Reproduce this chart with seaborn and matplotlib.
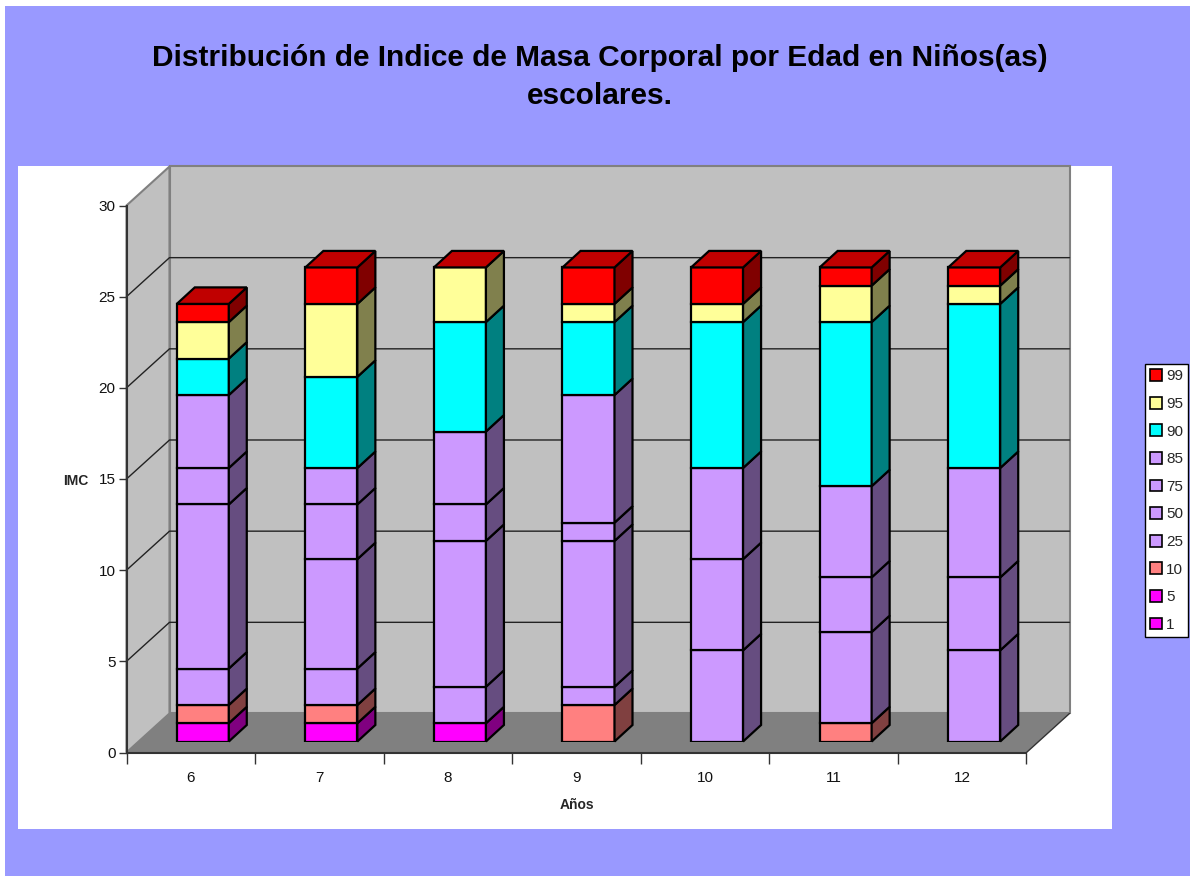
import numpy as np
import seaborn as sns
import matplotlib.pyplot as plt
from matplotlib.patches import Polygon, Rectangle, Patch

# values, one list per percentile, bottom to top
edades = ['6', '7', '8', '9', '10', '11', '12']
p1 = [1, 1, 1, 0, 0, 0, 0]
p5 = [0, 0, 0, 0, 0, 0, 0]
p10 = [1, 1, 0, 2, 0, 1, 0]
p25 = [2, 2, 2, 1, 5, 5, 5]
p50 = [9, 6, 8, 8, 5, 3, 4]
p75 = [2, 3, 2, 1, 5, 5, 6]
p85 = [4, 2, 4, 7, 0, 0, 0]
p90 = [2, 5, 6, 4, 8, 9, 9]
p95 = [2, 4, 3, 1, 1, 2, 1]
p99 = [1, 2, 0, 2, 2, 1, 1]

series = [p1, p5, p10, p25, p50, p75, p85, p90, p95, p99]
labels = ['1', '5', '10', '25', '50', '75', '85', '90', '95', '99']
colors = ['#FF00FF', '#FF00FF', '#FF8080', '#CC99FF', '#CC99FF', '#CC99FF',
          '#CC99FF', '#00FFFF', '#FFFF99', '#FF0000']
y_ticks = [0, 5, 10, 15, 20, 25, 30]

W, H = 1190, 877
BAR_DX, BAR_DY = 18 / 128.57, 16.5 / 18.23   # bar depth in data units
WALL_DX, WALL_DY = 43 / 128.57, 39 / 18.23   # depth of the back wall


def rect(x0, y0, x1, y1):
    # pixel box (from top left) to figure fractions
    return [x0 / W, 1 - y1 / H, (x1 - x0) / W, (y1 - y0) / H]


def darker(c, k=0.5):
    r, g, b = plt.matplotlib.colors.to_rgb(c)
    return (r * k, g * k, b * k)


sns.set_style('white')
plt.rcParams['font.family'] = ['Liberation Sans', 'DejaVu Sans']

fig = plt.figure(figsize=(W / 100, H / 100), dpi=100, facecolor='white')
for box, col in [(rect(5, 6, W, 876), '#9999FF'), (rect(18, 166, 1112, 829), 'white')]:
    fig.add_artist(Rectangle((box[0], box[1]), box[2], box[3], transform=fig.transFigure,
                             facecolor=col, edgecolor='none', zorder=-1))

# axes with the ticks and the walls
ax = fig.add_axes(rect(126.5, 205.5, 1026.5, 752.5))
ax.patch.set_alpha(0)
ax.set_xlim(-0.5, 6.5)
ax.set_ylim(0, 30)
x0, x1 = -0.5, 6.5
ax.add_patch(Polygon([(x0, 0), (x0 + WALL_DX, WALL_DY), (x0 + WALL_DX, 30 + WALL_DY), (x0, 30)],
                     facecolor='#C0C0C0', edgecolor='#808080', lw=1.5, clip_on=False, zorder=0))
ax.add_patch(Polygon([(x0 + WALL_DX, WALL_DY), (x1 + WALL_DX, WALL_DY), (x1 + WALL_DX, 30 + WALL_DY),
                      (x0 + WALL_DX, 30 + WALL_DY)],
                     facecolor='#C0C0C0', edgecolor='#808080', lw=1.5, clip_on=False, zorder=0))
ax.add_patch(Polygon([(x0, 0), (x1, 0), (x1 + WALL_DX, WALL_DY), (x0 + WALL_DX, WALL_DY)],
                     facecolor='#808080', edgecolor='none', clip_on=False, zorder=1))
ax.plot([x1, x1 + WALL_DX], [0, WALL_DY], color='#333333', lw=1, clip_on=False, zorder=1)
for t in y_ticks[1:-1]:
    ax.plot([x0, x0 + WALL_DX, x1 + WALL_DX], [t, t + WALL_DY, t + WALL_DY],
            color='#222222', lw=1, clip_on=False, zorder=1)

sns.despine(ax=ax, top=True, right=True)
for s in ['left', 'bottom']:
    ax.spines[s].set_color('#333333')
    ax.spines[s].set_linewidth(1.5)
    ax.spines[s].set_zorder(2)
ax.set_yticks(y_ticks)
ax.set_xticks(np.arange(-0.5, 7))
ax.set_xticklabels([])
ax.set_xticks(range(7), edades, minor=True)
ax.tick_params(axis='x', which='major', bottom=True, length=8, width=1, color='#333333')
ax.tick_params(axis='x', which='minor', bottom=False, length=0, pad=13, labelsize=11, labelcolor='#111111')
ax.tick_params(axis='y', left=True, length=6, width=1, color='#333333', pad=2, labelsize=11,
               labelcolor='#111111')
ax.set_xlabel('Años', fontsize=10, fontweight='bold', labelpad=10)
ax.set_ylabel('IMC', fontsize=10, fontweight='bold', rotation=0, labelpad=0)
ax.yaxis.set_label_coords(-0.056, 0.484)

# bars sit on the floor, a bit behind the axis line
ax_bars = fig.add_axes(rect(138.5, 194.5, 1038.5, 741.5))
ax_bars.patch.set_alpha(0)
ax_bars.set_axis_off()

totals = np.zeros(7)
for vals, col in zip(series, colors):
    vals = np.array(vals)
    keep = vals > 0
    if keep.any():
        xs = [e for e, k in zip(edades, keep) if k]
        sns.barplot(x=xs, y=vals[keep], order=edades, bottom=totals[keep], color=col, saturation=1,
                    width=52 / 128.57, edgecolor='black', linewidth=1.6, ax=ax_bars, errorbar=None)
    for i in np.flatnonzero(keep):
        right = i + 26 / 128.57
        b, t = totals[i], totals[i] + vals[i]
        ax_bars.add_patch(Polygon([(right, b), (right + BAR_DX, b + BAR_DY), (right + BAR_DX, t + BAR_DY), (right, t)],
                                  facecolor=darker(col), edgecolor='black', lw=1.6, clip_on=False, zorder=3))
    totals = totals + vals

for i, tot in enumerate(totals):
    left, right = i - 26 / 128.57, i + 26 / 128.57
    ax_bars.add_patch(Polygon([(left, tot), (right, tot), (right + BAR_DX, tot + BAR_DY), (left + BAR_DX, tot + BAR_DY)],
                              facecolor='#C00000', edgecolor='black', lw=1.6, clip_on=False, zorder=3))
ax_bars.set_xlim(-0.5, 6.5)
ax_bars.set_ylim(0, 30)

handles = [Patch(facecolor=c, edgecolor='black', linewidth=1.2, label=l)
           for c, l in zip(colors[::-1], labels[::-1])]
box = rect(1146, 361, 1187, 640)
fig.legend(handles=handles, loc='center', bbox_to_anchor=(box[0] + box[2] / 2, box[1] + box[3] / 2),
           fontsize=11, frameon=True, fancybox=False, facecolor='white', edgecolor='black',
           framealpha=1, handlelength=0.8, handleheight=0.8, handletextpad=0.25, labelspacing=0.88,
           borderpad=0.35, borderaxespad=0)

fig.text(600 / W, 1 - 77 / H, 'Distribución de Indice de Masa Corporal por Edad en Niños(as)\nescolares.',
         ha='center', va='center', fontsize=21.5, fontweight='bold', linespacing=1.5, color='black')

fig.savefig('out.png', dpi=100)
